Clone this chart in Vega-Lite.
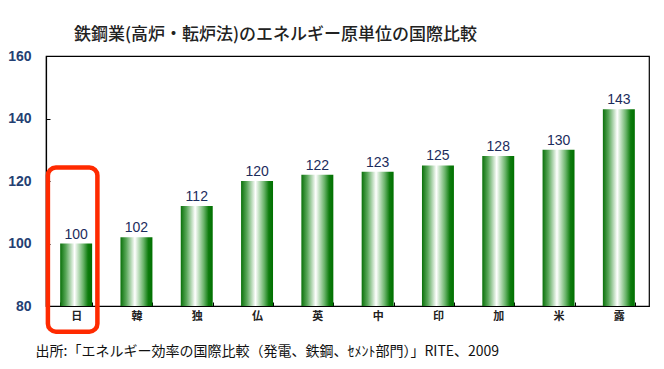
{
  "$schema": "https://vega.github.io/schema/vega-lite/v6.json",
  "width": 603,
  "height": 250,
  "autosize": {"type": "none"},
  "padding": {"left": 46, "top": 56, "right": 15, "bottom": 63},
  "background": "white",
  "title": {
    "text": "鉄鋼業(高炉・転炉法)のエネルギー原単位の国際比較",
    "font": "Noto Sans CJK JP",
    "fontSize": 17,
    "fontWeight": 500,
    "color": "#222222",
    "anchor": "middle",
    "dx": -72,
    "offset": 5
  },
  "config": {
    "view": {"stroke": "#000000", "strokeWidth": 1.2},
    "font": "Noto Sans CJK JP"
  },
  "data": {
    "values": [
      {"country": "日", "value": 100},
      {"country": "韓", "value": 102},
      {"country": "独", "value": 112},
      {"country": "仏", "value": 120},
      {"country": "英", "value": 122},
      {"country": "中", "value": 123},
      {"country": "印", "value": 125},
      {"country": "加", "value": 128},
      {"country": "米", "value": 130},
      {"country": "露", "value": 143}
    ]
  },
  "encoding": {
    "x": {
      "field": "country",
      "type": "nominal",
      "sort": null,
      "scale": {"paddingInner": 0.47, "paddingOuter": 0.235},
      "axis": {
        "title": "出所:「エネルギー効率の国際比較（発電、鉄鋼、ｾﾒﾝﾄ部門）」RITE、2009",
        "titleFont": "Noto Sans CJK JP",
        "titleFontSize": 14,
        "titleFontWeight": "normal",
        "titleColor": "#111111",
        "titleAnchor": "start",
        "titleAlign": "left",
        "titleBaseline": "middle",
        "titleX": -11,
        "titleY": 45,
        "labelAngle": 0,
        "labelFontSize": 11,
        "labelFontWeight": "bold",
        "labelColor": "#222222",
        "labelPadding": 8,
        "labelBaseline": "top",
        "tickBand": "extent",
        "tickSize": -4,
        "tickColor": "#000000",
        "domainColor": "#000000",
        "domainWidth": 1.2
      }
    }
  },
  "layer": [
    {
      "mark": {
        "type": "bar",
        "color": {
          "gradient": "linear",
          "x1": 0, "x2": 1, "y1": 0, "y2": 0,
          "stops": [
            {"offset": 0, "color": "#0a700a"},
            {"offset": 0.18, "color": "#5aa85a"},
            {"offset": 0.45, "color": "#ffffff"},
            {"offset": 0.72, "color": "#6ab46a"},
            {"offset": 0.87, "color": "#0e7c0e"},
            {"offset": 1, "color": "#007000"}
          ]
        }
      },
      "encoding": {
        "y": {
          "field": "value",
          "type": "quantitative",
          "scale": {"domain": [80, 160], "nice": false, "zero": false},
          "axis": {
            "title": null,
            "values": [80, 100, 120, 140, 160],
            "grid": false,
            "labelFont": "Liberation Sans",
            "labelFontSize": 14,
            "labelFontWeight": "bold",
            "labelColor": "#243f73",
            "labelPadding": 19,
            "tickSize": -4,
            "tickColor": "#000000",
            "domainColor": "#000000",
            "domainWidth": 1.2
          }
        },
        "y2": {"datum": 80}
      }
    },
    {
      "mark": {
        "type": "text",
        "baseline": "bottom",
        "dy": -2,
        "font": "Liberation Sans",
        "fontSize": 14,
        "color": "#1c2c5c"
      },
      "encoding": {
        "y": {"field": "value", "type": "quantitative"},
        "text": {"field": "value", "type": "quantitative"}
      }
    },
    {
      "data": {"values": [{"country": "日", "top": 124.3, "bottom": 71.8}]},
      "mark": {
        "type": "bar",
        "clip": false,
        "filled": false,
        "stroke": "#ff2a00",
        "strokeWidth": 4.5,
        "cornerRadius": 8,
        "width": 49.5,
        "xOffset": -3.5
      },
      "encoding": {
        "y": {"field": "top", "type": "quantitative"},
        "y2": {"field": "bottom"}
      }
    }
  ]
}
